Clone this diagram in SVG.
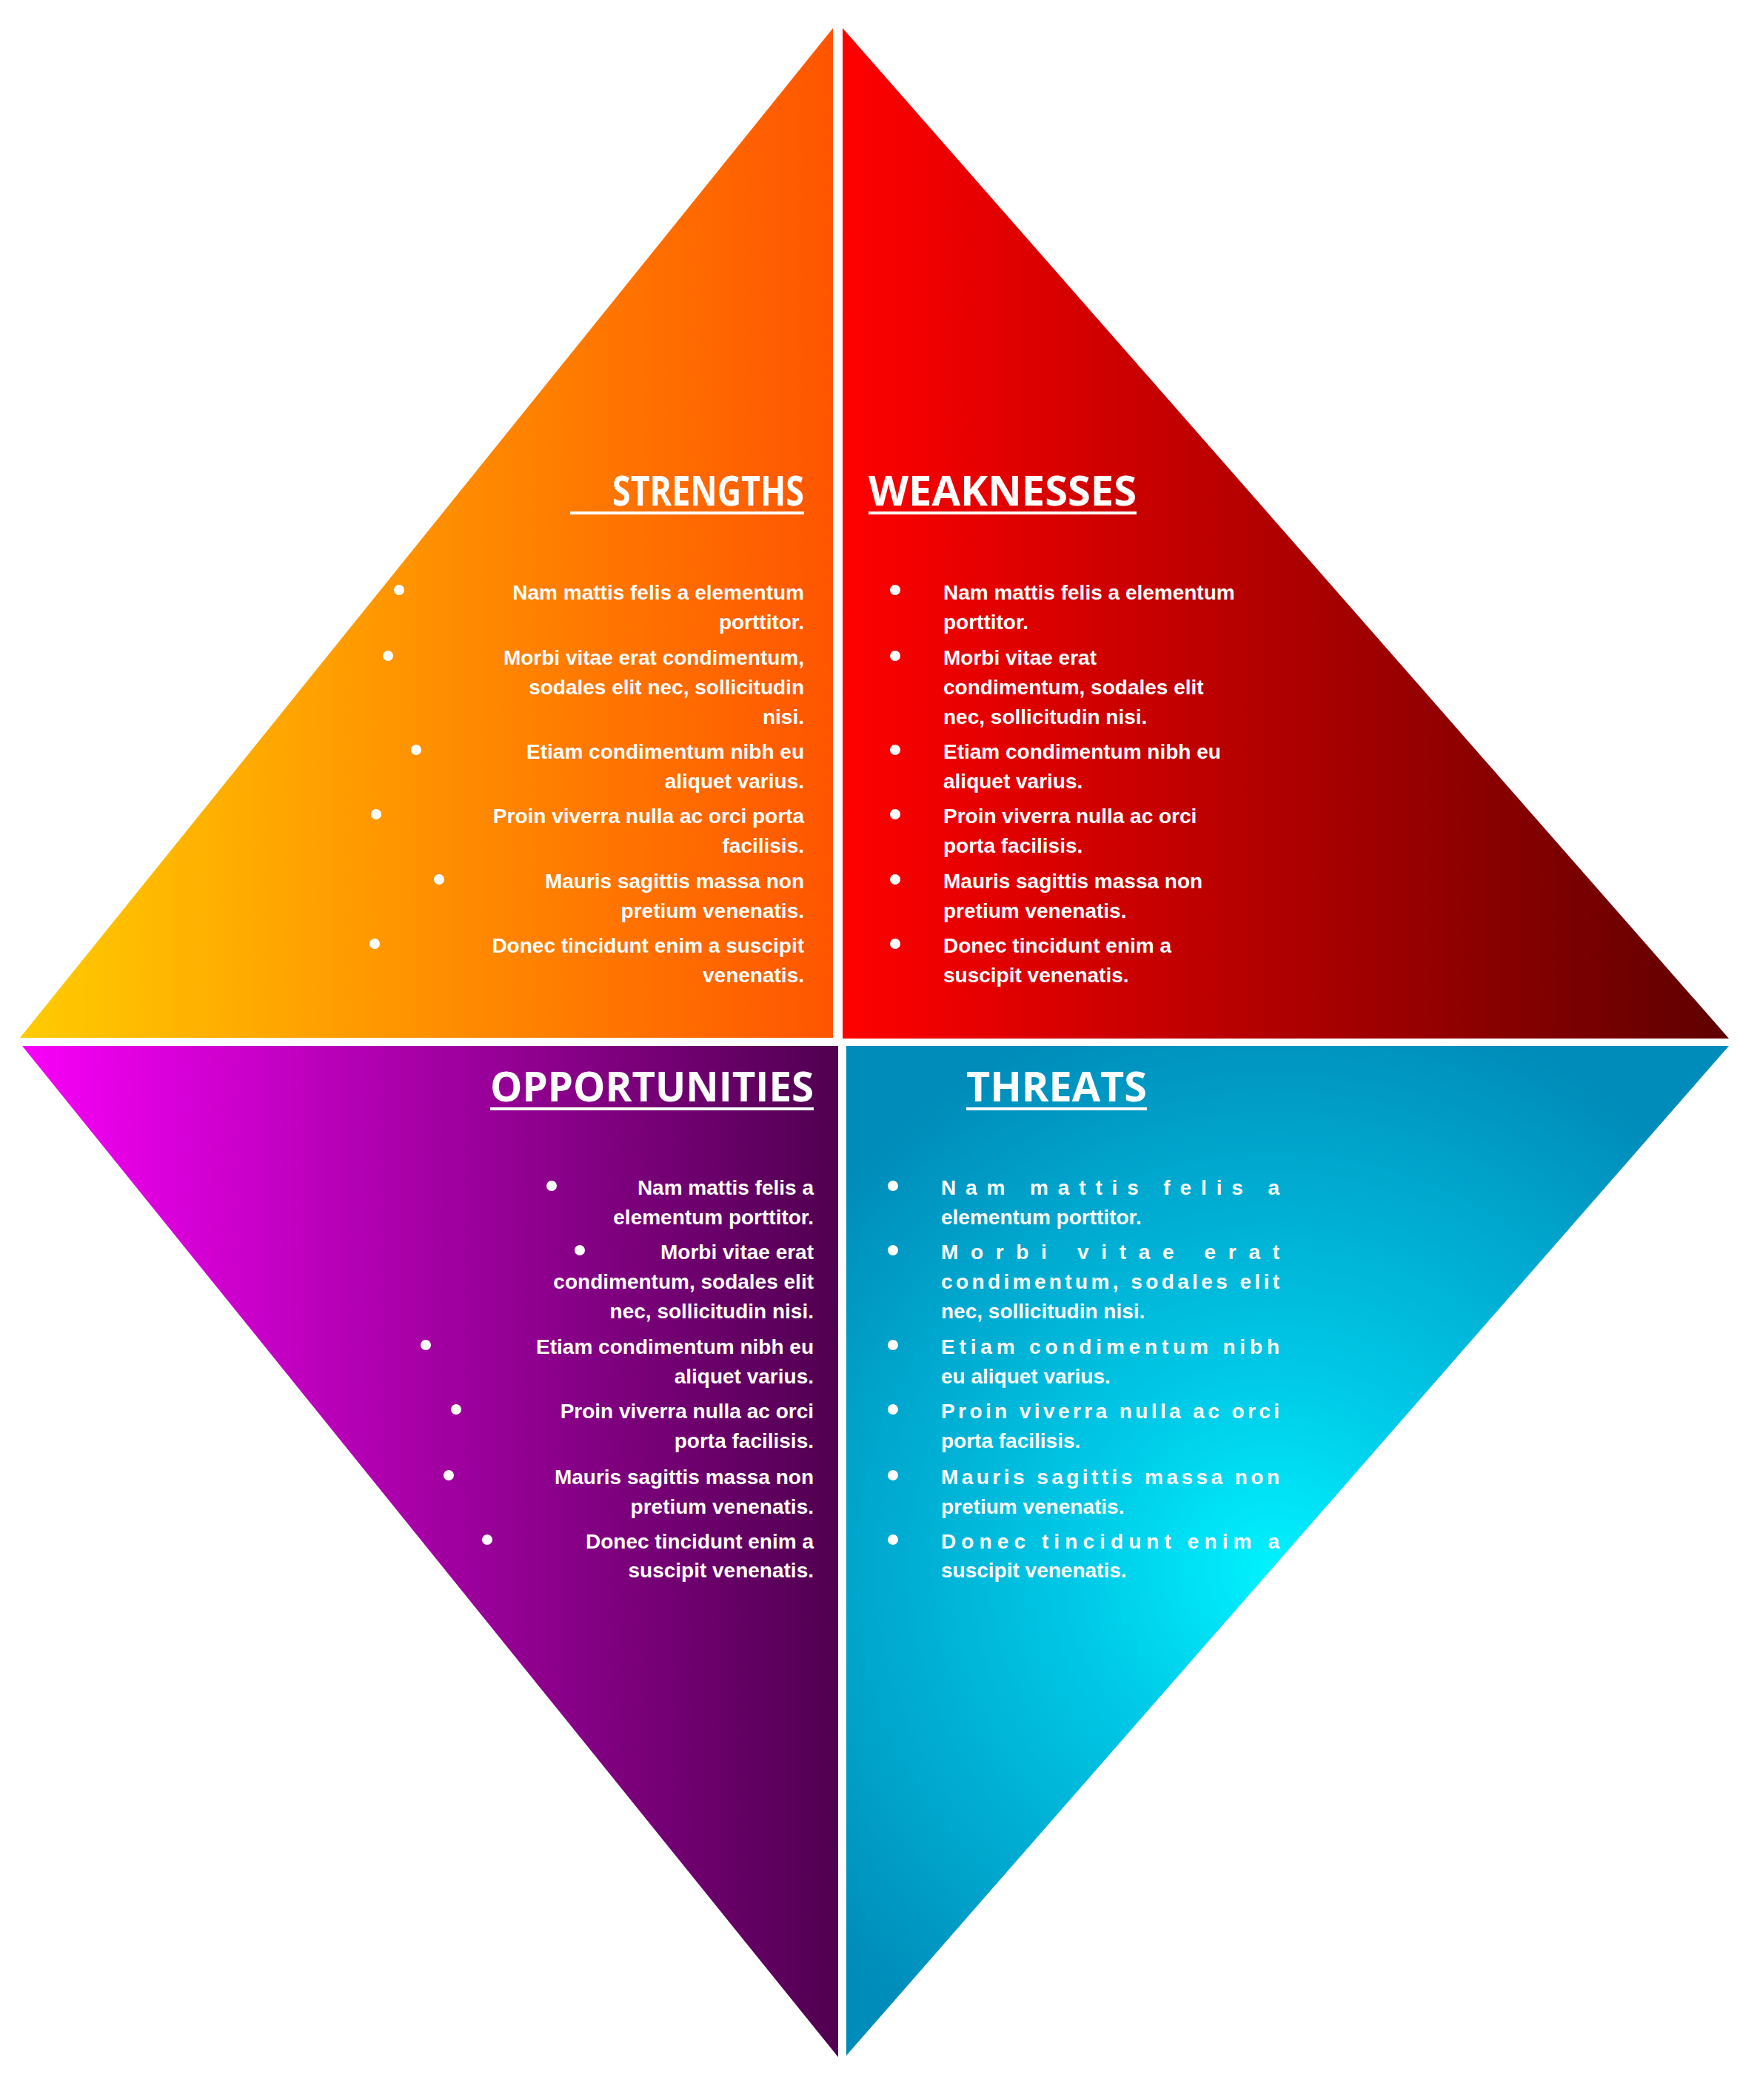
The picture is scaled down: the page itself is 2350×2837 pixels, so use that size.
<svg xmlns="http://www.w3.org/2000/svg" width="2350" height="2837" viewBox="0 0 2350 2837">
<defs>
<linearGradient id="gS" gradientUnits="userSpaceOnUse" x1="27" y1="0" x2="1125" y2="0"><stop offset="0" stop-color="#FFCC00"/><stop offset="1" stop-color="#FF5500"/></linearGradient>
<linearGradient id="gW" gradientUnits="userSpaceOnUse" x1="1138" y1="0" x2="2335" y2="0"><stop offset="0" stop-color="#FF0000"/><stop offset="1" stop-color="#5E0000"/></linearGradient>
<linearGradient id="gO" gradientUnits="userSpaceOnUse" x1="30" y1="0" x2="1132" y2="0"><stop offset="0" stop-color="#F800F8"/><stop offset="1" stop-color="#500050"/></linearGradient>
<radialGradient id="gT" gradientUnits="userSpaceOnUse" cx="1720" cy="2120" r="780"><stop offset="0" stop-color="#00F2FF"/><stop offset="0.35" stop-color="#00C8E6"/><stop offset="1" stop-color="#008CBA"/></radialGradient>
</defs>
<style>
.h{font-family:"Open Sans","Liberation Sans",sans-serif;font-weight:700;font-size:56px;fill:#fff}
.b{font-family:"Liberation Sans",Arial,sans-serif;font-weight:700;font-size:28px;fill:#fff}
.r{text-anchor:end}
.u{fill:#fff}
</style>
<g id="strengths">
<polygon points="1125,38 1125,1402 27,1402" fill="url(#gS)"/>
<text class="h r" x="1086" y="683" textLength="259" lengthAdjust="spacingAndGlyphs">STRENGTHS</text>
<rect class="u" x="770" y="691" width="316" height="4"/>
<g class="b r">
<text x="1086" y="810">Nam mattis felis a elementum</text><text x="1086" y="850">porttitor.</text>
<text x="1086" y="898">Morbi vitae erat condimentum,</text><text x="1086" y="938">sodales elit nec, sollicitudin</text><text x="1086" y="978">nisi.</text>
<text x="1086" y="1025">Etiam condimentum nibh eu</text><text x="1086" y="1065">aliquet varius.</text>
<text x="1086" y="1112">Proin viverra nulla ac orci porta</text><text x="1086" y="1152">facilisis.</text>
<text x="1086" y="1200">Mauris sagittis massa non</text><text x="1086" y="1240">pretium venenatis.</text>
<text x="1086" y="1287">Donec tincidunt enim a suscipit</text><text x="1086" y="1327">venenatis.</text>
</g>
<g class="u"><circle cx="539" cy="797" r="7"/><circle cx="524" cy="886" r="7"/><circle cx="562" cy="1013" r="7"/><circle cx="508" cy="1100" r="7"/><circle cx="593" cy="1188" r="7"/><circle cx="506" cy="1275" r="7"/></g>
</g>
<g id="weaknesses">
<polygon points="1138,38 2335,1403 1138,1403" fill="url(#gW)"/>
<text class="h" x="1173" y="683" textLength="362" lengthAdjust="spacingAndGlyphs">WEAKNESSES</text>
<rect class="u" x="1173" y="691" width="362" height="4"/>
<g class="b">
<text x="1274" y="810">Nam mattis felis a elementum</text><text x="1274" y="850">porttitor.</text>
<text x="1274" y="898">Morbi vitae erat</text><text x="1274" y="938">condimentum, sodales elit</text><text x="1274" y="978">nec, sollicitudin nisi.</text>
<text x="1274" y="1025">Etiam condimentum nibh eu</text><text x="1274" y="1065">aliquet varius.</text>
<text x="1274" y="1112">Proin viverra nulla ac orci</text><text x="1274" y="1152">porta facilisis.</text>
<text x="1274" y="1200">Mauris sagittis massa non</text><text x="1274" y="1240">pretium venenatis.</text>
<text x="1274" y="1287">Donec tincidunt enim a</text><text x="1274" y="1327">suscipit venenatis.</text>
</g>
<g class="u"><circle cx="1209" cy="797" r="7"/><circle cx="1209" cy="886" r="7"/><circle cx="1209" cy="1013" r="7"/><circle cx="1209" cy="1100" r="7"/><circle cx="1209" cy="1188" r="7"/><circle cx="1209" cy="1275" r="7"/></g>
</g>
<g id="opportunities">
<polygon points="30,1413 1132,1413 1132,2779" fill="url(#gO)"/>
<text class="h r" x="1099" y="1488" textLength="437" lengthAdjust="spacingAndGlyphs">OPPORTUNITIES</text>
<rect class="u" x="662" y="1496" width="437" height="4"/>
<g class="b r">
<text x="1099" y="1614">Nam mattis felis a</text><text x="1099" y="1654">elementum porttitor.</text>
<text x="1099" y="1701">Morbi vitae erat</text><text x="1099" y="1741">condimentum, sodales elit</text><text x="1099" y="1781">nec, sollicitudin nisi.</text>
<text x="1099" y="1829">Etiam condimentum nibh eu</text><text x="1099" y="1869">aliquet varius.</text>
<text x="1099" y="1916">Proin viverra nulla ac orci</text><text x="1099" y="1956">porta facilisis.</text>
<text x="1099" y="2005">Mauris sagittis massa non</text><text x="1099" y="2045">pretium venenatis.</text>
<text x="1099" y="2092">Donec tincidunt enim a</text><text x="1099" y="2131">suscipit venenatis.</text>
</g>
<g class="u"><circle cx="745" cy="1602" r="7"/><circle cx="783" cy="1689" r="7"/><circle cx="575" cy="1817" r="7"/><circle cx="616" cy="1904" r="7"/><circle cx="606" cy="1993" r="7"/><circle cx="658" cy="2080" r="7"/></g>
</g>
<g id="threats">
<polygon points="1143,1413 2335,1413 1143,2777" fill="url(#gT)"/>
<text class="h" x="1305" y="1488" textLength="244" lengthAdjust="spacingAndGlyphs">THREATS</text>
<rect class="u" x="1305" y="1496" width="244" height="4"/>
<g class="b">
<text x="1271" y="1614" textLength="457" lengthAdjust="spacing">Nam mattis felis a</text><text x="1271" y="1654">elementum porttitor.</text>
<text x="1271" y="1701" textLength="457" lengthAdjust="spacing">Morbi vitae erat</text><text x="1271" y="1741" textLength="457" lengthAdjust="spacing">condimentum, sodales elit</text><text x="1271" y="1781">nec, sollicitudin nisi.</text>
<text x="1271" y="1829" textLength="457" lengthAdjust="spacing">Etiam condimentum nibh</text><text x="1271" y="1869">eu aliquet varius.</text>
<text x="1271" y="1916" textLength="457" lengthAdjust="spacing">Proin viverra nulla ac orci</text><text x="1271" y="1956">porta facilisis.</text>
<text x="1271" y="2005" textLength="457" lengthAdjust="spacing">Mauris sagittis massa non</text><text x="1271" y="2045">pretium venenatis.</text>
<text x="1271" y="2092" textLength="457" lengthAdjust="spacing">Donec tincidunt enim a</text><text x="1271" y="2131">suscipit venenatis.</text>
</g>
<g class="u"><circle cx="1206" cy="1602" r="7"/><circle cx="1206" cy="1689" r="7"/><circle cx="1206" cy="1817" r="7"/><circle cx="1206" cy="1904" r="7"/><circle cx="1206" cy="1993" r="7"/><circle cx="1206" cy="2080" r="7"/></g>
</g>
<g id="connectors"/>
</svg>
